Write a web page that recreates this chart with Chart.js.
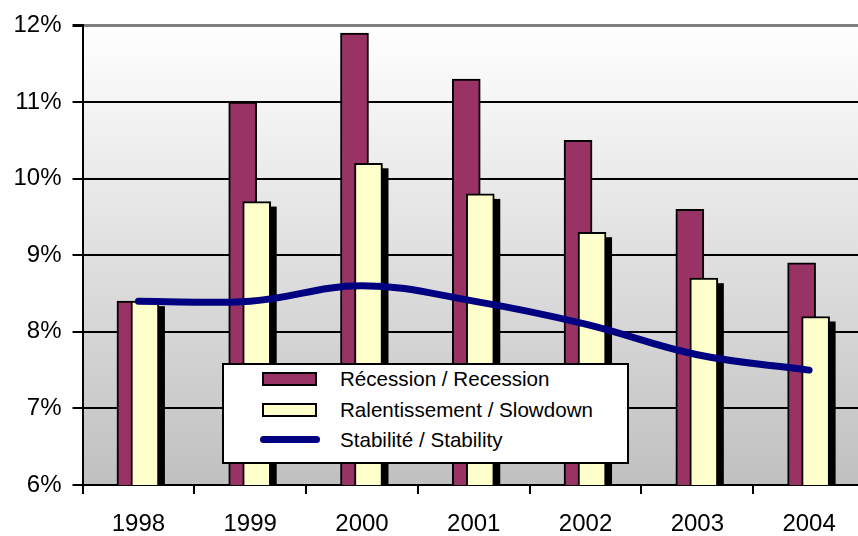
<!DOCTYPE html>
<html>
<head>
<meta charset="utf-8">
<title>Scénarios / Scenarios</title>
<script src="https://cdn.jsdelivr.net/npm/chart.js@4/dist/chart.umd.min.js"></script>
<style>
  html, body { margin: 0; padding: 0; background: #fff; overflow: hidden; width: 858px; height: 536px; }
  #wrap { position: absolute; left: 0; top: 0; width: 865px; height: 554px; }
  #legend {
    position: absolute; left: 222px; top: 363px; width: 403px; height: 97px;
    border: 2px solid #000; background: #fff;
    font-family: "Liberation Sans", Arial, sans-serif; font-size: 20.6px; color: #000;
  }
  #legend .item { position: absolute; left: 0; right: 0; height: 24px; }
  #legend .box { position: absolute; left: 38px; top: 5px; width: 51px; height: 10px; border: 2px solid #000; }
  #legend .stroke { position: absolute; left: 36px; top: 8px; width: 60px; height: 7px; border-radius: 4px; }
  #legend .text { position: absolute; left: 116px; top: 0; line-height: 24px; white-space: nowrap; }
</style>
</head>
<body>
<div id="wrap"><canvas id="chart"></canvas></div>
<div id="legend"></div>
<script>
// Years on the category axis
const years = ['1998', '1999', '2000', '2001', '2002', '2003', '2004'];

// Rate under each scenario (%)
const recession = [8.4, 11.0, 11.9, 11.3, 10.5, 9.6, 8.9];
const slowdown  = [8.4, 9.7, 10.2, 9.8, 9.3, 8.7, 8.2];
const stability = [8.4, 8.4, 8.6, 8.4, 8.1, 7.7, 7.5];

// Value axis range and step (%)
const yMin = 6;
const yMax = 12;
const yStep = 1;

// Series names
const seriesNames = {
  recession: 'Récession / Recession',
  slowdown: 'Ralentissement / Slowdown',
  stability: 'Stabilité / Stability'
};

const FONT = '"Liberation Sans", Arial, sans-serif';

// Grey-to-white fill behind the plot
const plotBackground = {
  id: 'plotBackground',
  beforeDraw(chart) {
    const { ctx, chartArea: a } = chart;
    const g = ctx.createLinearGradient(0, a.top, 0, a.bottom);
    g.addColorStop(0, '#ffffff');
    g.addColorStop(1, '#c0c0c0');
    ctx.save();
    ctx.fillStyle = g;
    ctx.fillRect(a.left, a.top, a.right - a.left, a.bottom - a.top);
    ctx.restore();
  }
};

// Overlapping bars: nudge each bar series sideways within its category
const barShift = {
  id: 'barShift',
  afterDatasetsUpdate(chart) {
    chart.data.datasets.forEach((ds, i) => {
      if (!ds.shift) return;
      chart.getDatasetMeta(i).data.forEach(el => { el.x += ds.shift; });
    });
  }
};

// Solid drop shadow under a bar series
const barShadow = {
  id: 'barShadow',
  beforeDatasetDraw(chart, args) {
    const ds = chart.data.datasets[args.index];
    if (!ds.shadowOffset) return;
    const { ctx, chartArea: a } = chart;
    const { x: dx, y: dy } = ds.shadowOffset;
    ctx.save();
    ctx.beginPath();
    ctx.rect(a.left, a.top, a.right - a.left, a.bottom - a.top);
    ctx.clip();
    ctx.fillStyle = '#000';
    args.meta.data.forEach(el => {
      const { x, y, base, width } = el.getProps(['x', 'y', 'base', 'width'], true);
      ctx.fillRect(x - width / 2 + dx, y + dy, width, base - y);
    });
    ctx.restore();
  }
};

const datasets = [
  {
    type: 'line',
    label: seriesNames.stability,
    data: stability,
    borderColor: '#000080',
    backgroundColor: '#000080',
    borderWidth: 7,
    borderCapStyle: 'round',
    borderJoinStyle: 'round',
    tension: 0.4,
    pointRadius: 0,
    fill: false,
    order: 0
  },
  {
    label: seriesNames.slowdown,
    data: slowdown,
    backgroundColor: '#FFFFCC',
    borderColor: '#000',
    borderWidth: 2,
    barThickness: 28,
    grouped: false,
    shift: 6.5,
    shadowOffset: { x: 6, y: 5 },
    order: 1
  },
  {
    label: seriesNames.recession,
    data: recession,
    backgroundColor: '#993366',
    borderColor: '#000',
    borderWidth: 2,
    barThickness: 28,
    grouped: false,
    shift: -7.5,
    order: 2
  }
];

new Chart(document.getElementById('chart'), {
  type: 'bar',
  data: { labels: years, datasets },
  options: {
    responsive: true,
    maintainAspectRatio: false,
    animation: false,
    events: [],
    layout: { padding: { left: 2.5, top: 23.5, right: 0, bottom: 0 } },
    plugins: { legend: { display: false }, tooltip: { enabled: false } },
    scales: {
      x: {
        offset: true,
        grid: {
          display: true, drawOnChartArea: false, drawTicks: true,
          tickLength: 9, color: '#000', lineWidth: 2, offset: true
        },
        border: { display: true, color: '#000', width: 2 },
        ticks: { color: '#000', font: { family: FONT, size: 24, lineHeight: 1 }, padding: 18, maxRotation: 0 }
      },
      y: {
        min: yMin,
        max: yMax,
        ticks: {
          stepSize: yStep,
          callback: v => v + '%',
          color: '#000',
          font: { family: FONT, size: 24 },
          padding: 11
        },
        grid: {
          color: c => (c.tick && c.tick.value === yMax ? '#808080' : '#000'),
          lineWidth: c => (c.tick && c.tick.value === yMax ? 3 : 2),
          tickColor: '#000',
          tickLength: 10,
          drawTicks: true
        },
        border: { display: true, color: '#000', width: 2 }
      }
    }
  },
  plugins: [plotBackground, barShift, barShadow]
});

// Legend box drawn over the lower middle of the plot
const legendEl = document.getElementById('legend');
const legendRows = [
  { name: seriesNames.recession, kind: 'box', color: '#993366', top: 2 },
  { name: seriesNames.slowdown, kind: 'box', color: '#FFFFCC', top: 33 },
  { name: seriesNames.stability, kind: 'stroke', color: '#000080', top: 63 }
];
legendRows.forEach(r => {
  const item = document.createElement('div');
  item.className = 'item';
  item.style.top = r.top + 'px';
  const sw = document.createElement('div');
  sw.className = r.kind;
  sw.style.background = r.color;
  const tx = document.createElement('div');
  tx.className = 'text';
  tx.textContent = r.name;
  item.appendChild(sw);
  item.appendChild(tx);
  legendEl.appendChild(item);
});
</script>
</body>
</html>
